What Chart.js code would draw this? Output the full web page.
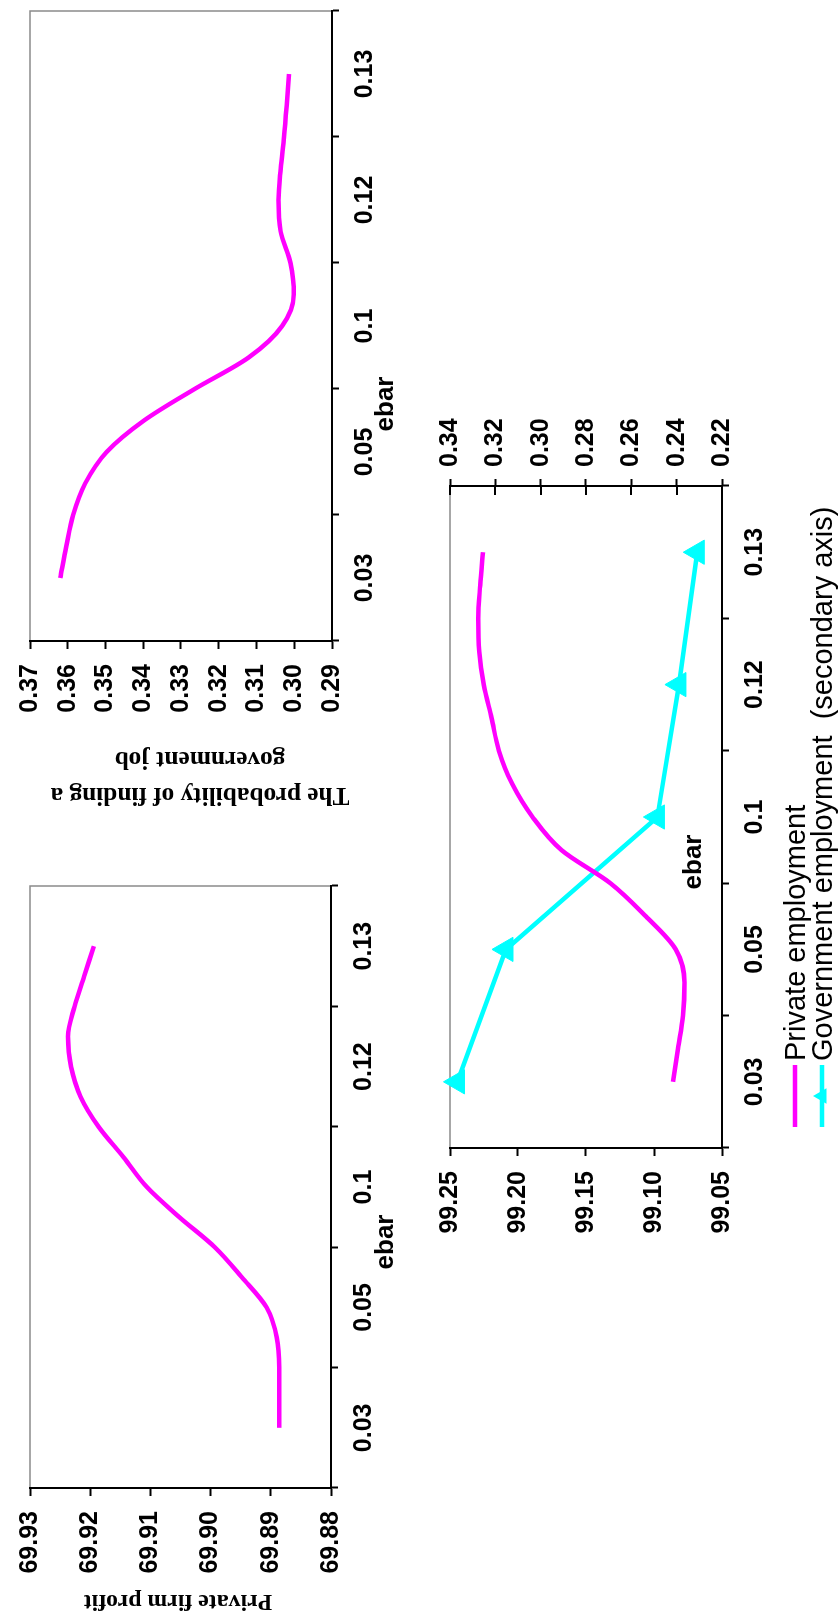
<!DOCTYPE html>
<html>
<head>
<meta charset="utf-8">
<title>ebar simulations</title>
<script src="https://cdn.jsdelivr.net/npm/chart.js@4.4.1/dist/chart.umd.min.js"></script>
<style>
  html, body { margin: 0; padding: 0; background: #fff; overflow: hidden; }
  body { width: 838px; height: 1620px; position: relative; }
  /* the figure is laid out landscape and turned a quarter turn onto the portrait page */
  #figure {
    position: absolute; left: 0; top: 0;
    width: 1620px; height: 838px;
    transform-origin: 0 0;
    transform: translate(0, 1620px) rotate(-90deg);
    background: #fff;
  }
  #figure canvas { position: absolute; }
</style>
</head>
<body>
<div id="figure">
  <canvas id="profitChart" width="760" height="420" style="left:0;top:0;width:760px;height:420px"></canvas>
  <canvas id="probChart" width="860" height="420" style="left:760px;top:0;width:860px;height:420px"></canvas>
  <canvas id="empChart" width="1000" height="458" style="left:300px;top:380px;width:1000px;height:458px"></canvas>
</div>
<script>
// ---- data ----
const ebarLabels = ['0.03', '0.05', '0.1', '0.12', '0.13'];

// positions on the ebar axis (label slots 0..4) where the curves are sampled
const curvePos = [0, 0.25, 0.5, 0.75, 1, 1.25, 1.5, 1.75, 2, 2.25, 2.5, 2.75, 3, 3.25, 3.5, 3.75, 4];

const profitValues = [69.8886, 69.8886, 69.8886, 69.8890, 69.8907, 69.8948, 69.8993, 69.9052, 69.9106,
                      69.9145, 69.9186, 69.9216, 69.9232, 69.9237, 69.9226, 69.9210, 69.9194];

const govJobProb = [0.3620, 0.3604, 0.3586, 0.3554, 0.3497, 0.3398, 0.3264, 0.3121, 0.3032,
                    0.3001, 0.3010, 0.3036, 0.3042, 0.3036, 0.3027, 0.3020, 0.3014];

const privateEmp = [99.0861, 99.0824, 99.0787, 99.0776, 99.0840, 99.1060, 99.1320, 99.1680, 99.1893,
                    99.2043, 99.2140, 99.2195, 99.2252, 99.2285, 99.2292, 99.2278, 99.2257];

const govPos = [0, 1, 2, 3, 4];
const govEmp = [0.3367, 0.3153, 0.2485, 0.2390, 0.2309];

const profitTicks = [69.88, 69.89, 69.90, 69.91, 69.92, 69.93];
const probTicks = [0.29, 0.30, 0.31, 0.32, 0.33, 0.34, 0.35, 0.36, 0.37];
const privTicks = [99.05, 99.10, 99.15, 99.20, 99.25];
const govTicks = [0.22, 0.24, 0.26, 0.28, 0.30, 0.32, 0.34];

// ---- styling ----
const MAGENTA = '#ff00ff';
const CYAN = '#00ffff';
const SANS = 'Liberation Sans, Arial, Helvetica, sans-serif';
const SERIF = 'Liberation Serif, Times New Roman, serif';
const TICK_FONT = { family: SANS, size: 25, weight: 'bold' };
const LINE_W = 4.5;

function ebarScale(height) {
  return {
    type: 'linear',
    position: 'bottom',
    min: -0.5,
    max: ebarLabels.length - 0.5,
    afterBuildTicks: s => {
      const t = [];
      for (let k = -1; k <= 2 * ebarLabels.length - 1; k++) t.push({ value: k / 2 });
      s.ticks = t;
    },
    afterFit: s => { s.height = height; },
    grid: {
      drawOnChartArea: false,
      tickLength: 7,
      tickWidth: 2,
      tickColor: c => (Number.isInteger(c.tick.value) ? 'rgba(0,0,0,0)' : '#000')
    },
    border: { color: '#000', width: 2 },
    ticks: {
      autoSkip: false, maxRotation: 0, minRotation: 0,
      padding: 11, color: '#000', font: TICK_FONT,
      callback: v => (Number.isInteger(v) ? ebarLabels[v] : '')
    }
  };
}

function valueScale(ticks, position, width, tickLen, pad) {
  return {
    type: 'linear',
    position,
    min: ticks[0],
    max: ticks[ticks.length - 1],
    afterBuildTicks: s => { s.ticks = ticks.map(v => ({ value: v })); },
    afterFit: s => { s.width = width; },
    grid: { drawOnChartArea: false, tickLength: tickLen, tickWidth: 2, tickColor: '#000' },
    border: { color: '#000', width: 2 },
    ticks: { padding: pad, color: '#000', font: TICK_FONT, callback: v => v.toFixed(2) }
  };
}

// thin grey frame around the plot area, under the axis lines
const plotFrame = {
  id: 'plotFrame',
  beforeDraw(chart) {
    const a = chart.chartArea, ctx = chart.ctx;
    ctx.save();
    ctx.strokeStyle = '#8a8a8a';
    ctx.lineWidth = 1.5;
    ctx.strokeRect(a.left, a.top, a.right - a.left, a.bottom - a.top);
    ctx.restore();
  }
};

// free-standing labels (axis titles)
const figText = {
  id: 'figText',
  afterDraw(chart, args, opts) {
    const ctx = chart.ctx;
    (opts.items || []).forEach(it => {
      ctx.save();
      ctx.translate(it.x, it.y);
      if (it.rot) ctx.rotate(it.rot * Math.PI / 180);
      ctx.font = it.font;
      ctx.fillStyle = '#000';
      ctx.textAlign = it.align || 'center';
      ctx.textBaseline = 'alphabetic';
      ctx.fillText(it.text, 0, 0);
      ctx.restore();
    });
  }
};

function triangle(ctx, x, y, r) {
  ctx.beginPath();
  for (let k = 0; k < 3; k++) {
    const a = k * 2 * Math.PI / 3;
    const px = x + Math.sin(a) * r, py = y - Math.cos(a) * r;
    if (k === 0) ctx.moveTo(px, py); else ctx.lineTo(px, py);
  }
  ctx.closePath();
  ctx.fill();
}

function baseOptions(padding, textItems) {
  return {
    responsive: false,
    animation: false,
    events: [],
    layout: { padding },
    plugins: {
      legend: { display: false },
      tooltip: { enabled: false },
      figText: { items: textItems }
    }
  };
}

function curve(xs, ys, color, axisId) {
  return {
    data: xs.map((x, i) => ({ x, y: ys[i] })),
    yAxisID: axisId || 'y',
    borderColor: color,
    backgroundColor: color,
    borderWidth: LINE_W,
    pointRadius: 0,
    fill: false,
    cubicInterpolationMode: 'monotone',
    borderJoinStyle: 'round'
  };
}

const ebarFont = `bold 26px ${SANS}`;

// ---- private firm profit ----
new Chart(document.getElementById('profitChart'), {
  type: 'line',
  data: { datasets: [curve(curvePos, profitValues, MAGENTA)] },
  options: Object.assign(baseOptions({ top: 23, right: 26, left: 0, bottom: 0 }, [
    { text: 'Private firm profit', x: 25, y: 178, rot: -90, font: `bold 23.8px ${SERIF}` },
    { text: 'ebar', x: 378, y: 393, font: ebarFont }
  ]), {
    scales: { x: ebarScale(89), y: valueScale(profitTicks, 'left', 132, 8, 15) }
  }),
  plugins: [plotFrame, figText]
});

// ---- probability of finding a government job ----
new Chart(document.getElementById('probChart'), {
  type: 'line',
  data: { datasets: [curve(curvePos, govJobProb, MAGENTA)] },
  options: Object.assign(baseOptions({ top: 22, right: 5, left: 0, bottom: 0 }, [
    { text: 'The probability of finding a', x: 72, y: 200, rot: -90, font: `bold 25.3px ${SERIF}` },
    { text: 'government job', x: 108, y: 200, rot: -90, font: `bold 25.3px ${SERIF}` },
    { text: 'ebar', x: 456, y: 393, font: ebarFont }
  ]), {
    scales: { x: ebarScale(88), y: valueScale(probTicks, 'left', 219, 8, 15) }
  }),
  plugins: [plotFrame, figText]
});

// ---- private and government employment ----
const empLegend = {
  id: 'empLegend',
  afterDraw(chart) {
    const ctx = chart.ctx;
    const rows = [
      { text: 'Private employment', color: MAGENTA, y: 415, marker: false },
      { text: 'Government employment  (secondary axis)', color: CYAN, y: 442, marker: true }
    ];
    ctx.save();
    ctx.font = `29px ${SANS}`;
    ctx.textAlign = 'left';
    ctx.textBaseline = 'alphabetic';
    rows.forEach(r => {
      ctx.strokeStyle = r.color;
      ctx.lineWidth = LINE_W;
      ctx.beginPath();
      ctx.moveTo(193, r.y);
      ctx.lineTo(255, r.y);
      ctx.stroke();
      if (r.marker) { ctx.fillStyle = r.color; triangle(ctx, 224, r.y, 9); }
      ctx.fillStyle = '#000';
      ctx.fillText(r.text, 259, r.y + 10);
    });
    ctx.restore();
  }
};

// inner half of the crossing tick marks on the secondary axis
const innerTicks = {
  id: 'innerTicks',
  afterDraw(chart) {
    const s = chart.scales.y2, a = chart.chartArea, ctx = chart.ctx;
    ctx.save();
    ctx.strokeStyle = '#000';
    ctx.lineWidth = 2;
    s.ticks.forEach(t => {
      const py = Math.round(s.getPixelForValue(t.value));
      ctx.beginPath();
      ctx.moveTo(a.right, py);
      ctx.lineTo(a.right - 9, py);
      ctx.stroke();
    });
    ctx.restore();
  }
};

const govSet = Object.assign(curve(govPos, govEmp, CYAN, 'y2'), {
  cubicInterpolationMode: 'default',
  tension: 0,
  pointStyle: 'triangle',
  pointRadius: 14,
  pointBorderWidth: 1,
  pointBackgroundColor: CYAN,
  pointBorderColor: CYAN,
  clip: false
});

new Chart(document.getElementById('empChart'), {
  type: 'line',
  // first dataset is painted last, so the private curve sits on top where they cross
  data: { datasets: [curve(curvePos, privateEmp, MAGENTA, 'y'), govSet] },
  options: Object.assign(baseOptions({ top: 70, right: 0, left: 0, bottom: 0 }, [
    { text: 'ebar', x: 458, y: 321, font: ebarFont }
  ]), {
    scales: {
      x: ebarScale(116),
      y: valueScale(privTicks, 'left', 172, 8, 15),
      y2: valueScale(govTicks, 'right', 166, 7, 12)
    }
  }),
  plugins: [plotFrame, figText, innerTicks, empLegend]
});
</script>
</body>
</html>
